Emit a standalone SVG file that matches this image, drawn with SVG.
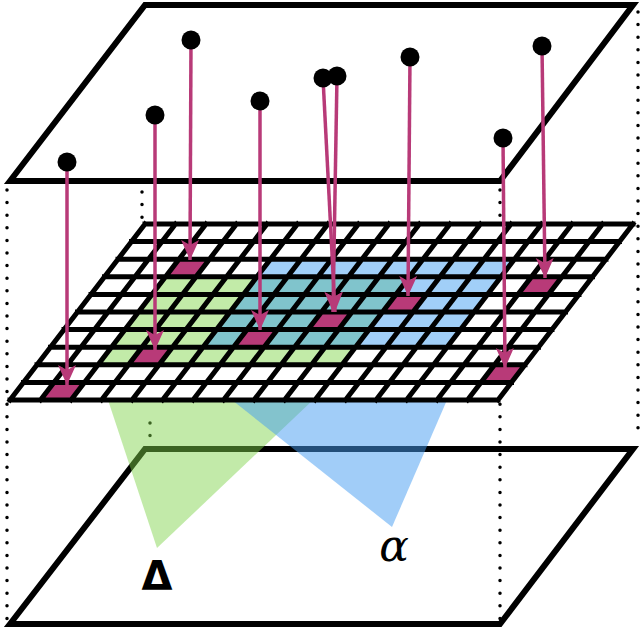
<svg xmlns="http://www.w3.org/2000/svg" width="642" height="634" viewBox="0 0 642 634">
<style>
.plane{fill:none;stroke:#000;stroke-width:6;stroke-linejoin:miter}
.dot{fill:none;stroke:#000;stroke-width:3.5;stroke-linecap:round;stroke-dasharray:0 12.6}
.g{fill:#c2eba8}.t{fill:#80c4cc}.b{fill:#a1cff8}.m{fill:#b83a78}
.arr{stroke:#b83a78;stroke-width:3.5;fill:none;marker-end:url(#ah)}
.pt{fill:#000}
</style>
<defs>
<marker id="ah" markerUnits="userSpaceOnUse" markerWidth="22" markerHeight="22" viewBox="0 0 22 22" refX="20" refY="11" orient="auto">
<path d="M0,2 L20,11 L0,20 L5,11 Z" fill="#b83a78"/>
</marker>
</defs>
<rect width="642" height="634" fill="#fff"/>
<g id="bottom-plane">
<polygon class="plane" points="10,624 145,449 633,449 500,624"/>
</g>
<g id="guides">
<line class="dot" x1="7" y1="190" x2="7" y2="624"/>
<line class="dot" x1="142" y1="192" x2="142" y2="218"/>
<line class="dot" x1="150" y1="423" x2="150" y2="436"/>
<line class="dot" x1="500" y1="190" x2="500" y2="624"/>
<line class="dot" x1="638" y1="12" x2="638" y2="440"/>
</g>
<g id="triangles">
<polygon points="108,400 313,400 157,548" fill="#7ed348" fill-opacity="0.47"/>
<polygon points="232,400 447,400 392,527" fill="#439bf1" fill-opacity="0.5"/>
</g>
<g id="top-plane">
<polygon class="plane" points="10,181 145,5 633,5 500,181"/>
</g>
<g id="grid" transform="matrix(30.5 0 -13.5 17.6 145 224)">
<rect x="0" y="0" width="16" height="10" fill="#fff"/>
<rect class="b" x="5" y="2" width="8" height="1"/>
<rect class="m" x="2" y="2" width="1" height="1"/>
<rect class="g" x="2" y="3" width="3" height="4"/>
<rect class="t" x="5" y="3" width="5" height="2"/>
<rect class="b" x="10" y="3" width="3" height="1"/>
<rect class="m" x="14" y="3" width="1" height="1"/>
<rect class="m" x="10" y="4" width="1" height="1"/>
<rect class="b" x="11" y="4" width="2" height="1"/>
<rect class="t" x="5" y="5" width="5" height="2"/>
<rect class="m" x="8" y="5" width="1" height="1"/>
<rect class="b" x="10" y="5" width="3" height="2"/>
<rect class="m" x="6" y="6" width="1" height="1"/>
<rect class="g" x="2" y="7" width="8" height="1"/>
<rect class="m" x="3" y="7" width="1" height="1"/>
<rect class="m" x="15" y="8" width="1" height="1"/>
<rect class="m" x="1" y="9" width="1" height="1"/>
<path d="M0 0H16M0 1H16M0 2H16M0 3H16M0 4H16M0 5H16M0 6H16M0 7H16M0 8H16M0 9H16M0 10H16M0 0V10M1 0V10M2 0V10M3 0V10M4 0V10M5 0V10M6 0V10M7 0V10M8 0V10M9 0V10M10 0V10M11 0V10M12 0V10M13 0V10M14 0V10M15 0V10M16 0V10" fill="none" stroke="#000" stroke-width="5" vector-effect="non-scaling-stroke" stroke-linecap="square"/>
</g>
<g id="connectors">
<line class="arr" x1="67" y1="162" x2="67" y2="385"/>
<line class="arr" x1="155" y1="115" x2="155" y2="350"/>
<line class="arr" x1="191" y1="40" x2="190" y2="260"/>
<line class="arr" x1="260" y1="101" x2="260" y2="330"/>
<line class="arr" x1="323" y1="78" x2="335" y2="312"/>
<line class="arr" x1="337" y1="76" x2="333" y2="312"/>
<line class="arr" x1="410" y1="57" x2="408" y2="296"/>
<line class="arr" x1="503" y1="138" x2="505" y2="368"/>
<line class="arr" x1="542" y1="46" x2="545" y2="278"/>
</g>
<g id="points">
<ellipse class="pt" cx="67" cy="162" rx="9.5" ry="9.5"/>
<ellipse class="pt" cx="155" cy="115" rx="9.5" ry="9.5"/>
<ellipse class="pt" cx="191" cy="40" rx="9.5" ry="9.5"/>
<ellipse class="pt" cx="260" cy="101" rx="9.5" ry="9.5"/>
<ellipse class="pt" cx="323" cy="78" rx="9.5" ry="9.5"/>
<ellipse class="pt" cx="337" cy="76" rx="9.5" ry="9.5"/>
<ellipse class="pt" cx="410" cy="57" rx="9.5" ry="9.5"/>
<ellipse class="pt" cx="503" cy="138" rx="9.5" ry="9.5"/>
<ellipse class="pt" cx="542" cy="46" rx="9.5" ry="9.5"/>
</g>
<g id="labels">
<text x="157" y="590" text-anchor="middle" font-family="DejaVu Sans, sans-serif" font-weight="bold" font-size="40">Δ</text>
<text x="394" y="561" text-anchor="middle" font-family="DejaVu Serif, serif" font-style="italic" font-size="44">α</text>
</g>
</svg>
